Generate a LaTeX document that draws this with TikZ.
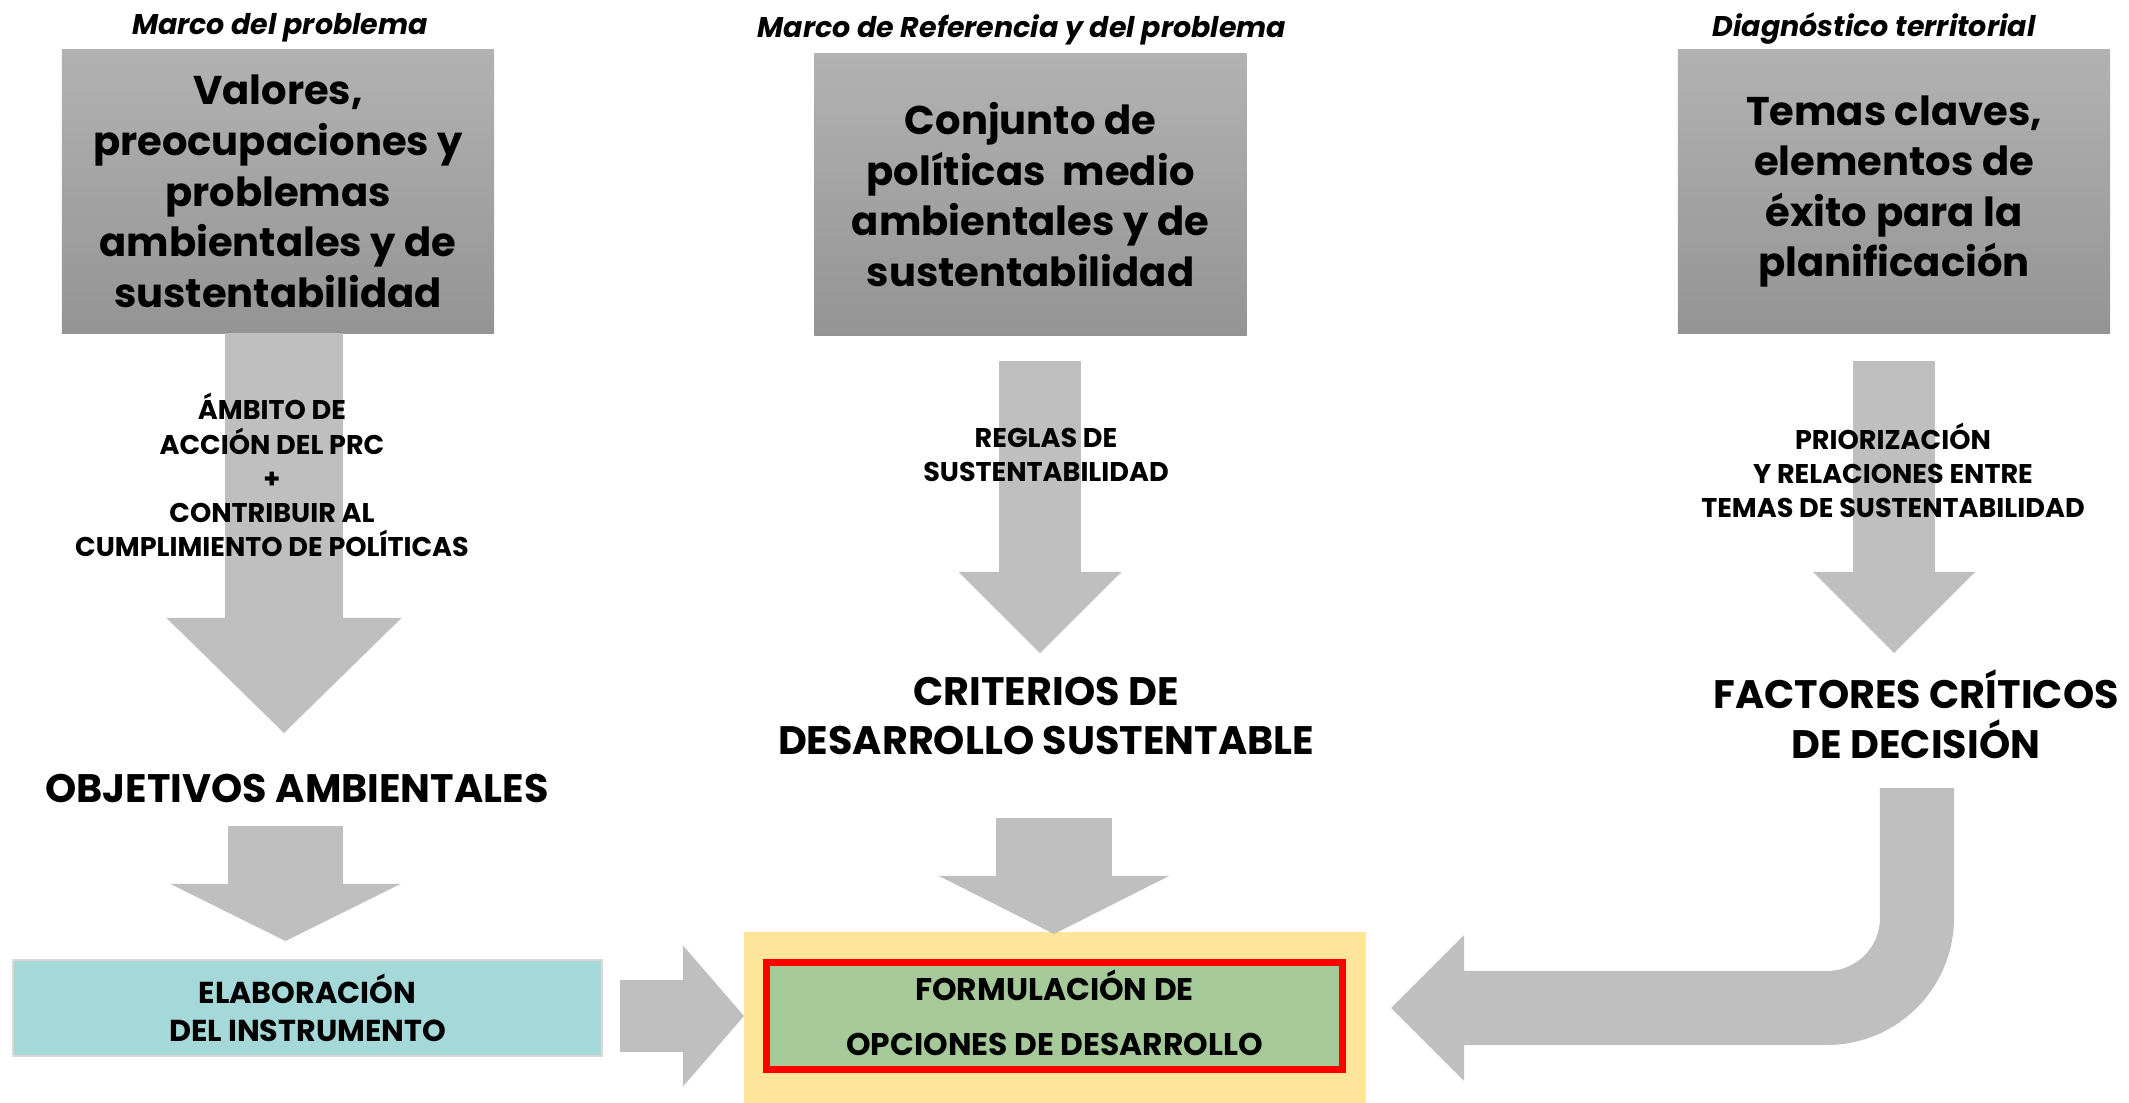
\documentclass[tikz,border=0pt]{standalone}
\usepackage{fontspec}
\setmainfont{Poppins}
\usetikzlibrary{arrows.meta}
\definecolor{arrowgray}{RGB}{191,191,191}
\definecolor{boxtop}{RGB}{178,178,178}
\definecolor{boxbot}{RGB}{148,148,148}
\definecolor{tealfill}{RGB}{165,217,217}
\definecolor{tealline}{RGB}{217,217,217}
\definecolor{yellowfill}{RGB}{255,229,153}
\definecolor{greenfill}{RGB}{165,201,153}
\tikzset{
  title/.style={font=\fontsize{8.1}{9.7}\selectfont\bfseries\itshape},
  graybox/.style={top color=boxtop, bottom color=boxbot, minimum width=4.32cm,
    minimum height=2.83cm, inner sep=0pt, align=center,
    font=\fontsize{11.4}{14.4}\selectfont\bfseries},
  arrowlabel/.style={align=center, font=\fontsize{7.7}{9.7}\selectfont\bfseries},
  biglabel/.style={align=center, font=\fontsize{11.3}{14.2}\selectfont\bfseries},
  boxlabel/.style={align=center, inner sep=0pt},
  barrow/.style n args={3}{draw=arrowgray, line width=#1,
    -{Triangle[width=#2, length=#3, line width=0pt]}}
}
\begin{document}
\begin{tikzpicture}[x=0.01cm, y=-0.01cm]
  \useasboundingbox (0,0) rectangle (2129,1103);
  % titles
  \node[title] (tit1) at (280,28) {Marco del problema};
  \node[title] (tit2) at (1022,30) {Marco de Referencia y del problema};
  \node[title] (tit3) at (1874,28) {Diagnóstico territorial};
  % gray boxes
  \node[graybox] (valores) at (278,191.5)
    {Valores,\\preocupaciones y\\problemas\\ambientales y de\\sustentabilidad};
  \node[graybox, minimum height=2.81cm] (politicas) at (1030.5,194.5)
    {Conjunto de\\políticas~ medio\\ambientales y de\\sustentabilidad};
  \node[graybox] (temas) at (1894,191.5)
    {Temas claves,\\elementos de\\éxito para la\\planificación};
  % bottom boxes
  \node[fill=tealfill, draw=tealline, line width=0.6pt, minimum width=5.89cm,
    minimum height=0.96cm, inner sep=0pt] (elab) at (307.5,1008) {};
  \node[fill=yellowfill, minimum width=6.22cm, minimum height=1.71cm,
    inner sep=0pt] (fondo) at (1055,1017.5) {};
  \node[fill=greenfill, draw=red, line width=0.07cm, minimum width=5.76cm,
    minimum height=1.07cm, inner sep=0pt] (form) at (1054.5,1016) {};
  % arrow ends
  \coordinate (a1s) at (284,333);   \coordinate (a1e) at (284,733);
  \coordinate (a2s) at (1040,361);  \coordinate (a2e) at (1040,653);
  \coordinate (a3s) at (1894,361);  \coordinate (a3e) at (1894,653);
  \coordinate (b1s) at (285.5,826); \coordinate (b1e) at (285.5,941);
  \coordinate (b2s) at (1054,818);  \coordinate (b2e) at (1054,934);
  \coordinate (c1s) at (620,1016);  \coordinate (c1e) at (744,1016);
  \coordinate (c3s) at (1917,788);  \coordinate (c3e) at (1391,1008);
  \begin{scope}
    \draw[barrow={1.18cm}{2.35cm}{1.15cm}] (a1s) -- (a1e);
    \draw[barrow={0.82cm}{1.63cm}{0.81cm}] (a2s) -- (a2e);
    \draw[barrow={0.82cm}{1.62cm}{0.81cm}] (a3s) -- (a3e);
    \draw[barrow={1.15cm}{2.30cm}{0.57cm}] (b1s) -- (b1e);
    \draw[barrow={1.16cm}{2.30cm}{0.58cm}] (b2s) -- (b2e);
    \draw[barrow={0.71cm}{1.41cm}{0.61cm}] (c1s) -- (c1e);
    \draw[barrow={0.74cm}{1.46cm}{0.73cm}, rounded corners=0.9cm] (c3s) |- (c3e);
  \end{scope}
  % labels
  \node[arrowlabel] (ambito) at (272,475)
    {ÁMBITO DE\\ACCIÓN DEL PRC\\+\\CONTRIBUIR AL\\CUMPLIMIENTO DE POLÍTICAS};
  \node[arrowlabel] (reglas) at (1046,455) {REGLAS DE\\SUSTENTABILIDAD};
  \node[arrowlabel] (prior) at (1893,470)
    {PRIORIZACIÓN\\Y RELACIONES ENTRE\\TEMAS DE SUSTENTABILIDAD};
  \node[biglabel] (objetivos) at (297,788) {OBJETIVOS AMBIENTALES};
  \node[biglabel] (criterios) at (1046,716) {CRITERIOS DE\\DESARROLLO SUSTENTABLE};
  \node[biglabel] (factores) at (1916,714) {FACTORES CRÍTICOS\\DE DECISIÓN};
  \node[boxlabel, font=\fontsize{8.6}{10.8}\selectfont\bfseries] at (elab)
    {ELABORACIÓN\\DEL INSTRUMENTO};
  \node[boxlabel, font=\fontsize{8.9}{15.6}\selectfont\bfseries] at ([yshift=0.8pt]form.center)
    {FORMULACIÓN DE\\OPCIONES DE DESARROLLO};
\end{tikzpicture}
\end{document}
